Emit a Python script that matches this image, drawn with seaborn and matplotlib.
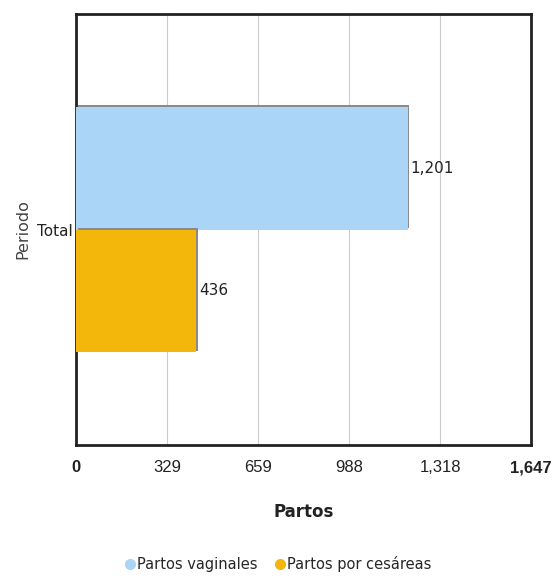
import matplotlib
matplotlib.use("Agg")
import matplotlib.pyplot as plt
import matplotlib.patheffects as pe
from matplotlib.lines import Line2D
import seaborn as sns
import pandas as pd

categories = ["Total"]
series = ["Partos vaginales", "Partos por cesáreas"]
vaginales = [1201]
cesareas = [436]
xticks = [0, 329, 659, 988, 1318, 1647]
xtick_labels = ["0", "329", "659", "988", "1,318", "1,647"]
colors = ["#abd5f7", "#f2b70a"]

df = pd.DataFrame({
    "Periodo": categories * 2,
    "Serie": [series[0]] * len(categories) + [series[1]] * len(categories),
    "Partos": vaginales + cesareas,
})

sns.set_theme(style="white")
plt.rcParams["font.family"] = ["DejaVu Sans"]
narrow = ["Liberation Sans", "DejaVu Sans"]

fig = plt.figure(figsize=(5.54, 5.76), dpi=100)
ax = fig.add_axes([76 / 554, 1 - 445 / 576, (531 - 76) / 554, (445 - 14) / 576])

sns.barplot(data=df, y="Periodo", x="Partos", hue="Serie", orient="h",
            palette=colors, width=0.57, saturation=1, ax=ax, legend=False,
            zorder=3)

for p in ax.patches:
    p.set_path_effects([pe.SimplePatchShadow(offset=(1.2, 1.2), shadow_rgbFace="#8a8a8a", alpha=1.0), pe.Normal()])
    p.set_edgecolor("none")

ax.set_xlim(0, 1647)
ax.set_ylim(0.5, -0.5)
ax.set_xticks(xticks)
ax.set_xticklabels(xtick_labels, fontsize=12, family=narrow)
for lbl in ax.get_xticklabels():
    if lbl.get_text() in ("0", "1,647"):
        lbl.set_fontweight("bold")
ax.tick_params(axis="x", length=0, pad=11, colors="#222222")
ax.tick_params(axis="y", length=0, pad=2, colors="#222222")
for lbl in ax.get_yticklabels():
    lbl.set_fontsize(11)
ax.grid(axis="x", color="#cccccc", linewidth=0.8, zorder=0)
ax.set_axisbelow(True)

for s in ax.spines.values():
    s.set_visible(True)
    s.set_color("#222222")
    s.set_linewidth(2)

ax.set_xlabel("Partos", fontsize=12, fontweight="bold", labelpad=20, color="#222222")
ax.set_ylabel("Periodo", fontsize=11.5, color="#444444", labelpad=5)

for cont in ax.containers:
    ax.bar_label(cont, labels=[f"{v:,.0f}" for v in cont.datavalues],
                 padding=2, fontsize=11, color="#222222")

handles = [Line2D([0], [0], marker="o", linestyle="none", markersize=8,
                  markerfacecolor=c, markeredgecolor="none") for c in colors]
fig.legend(handles, series, loc="center", bbox_to_anchor=(0.5, 1 - 564 / 576),
           ncol=2, frameon=False, handletextpad=0.0,
           columnspacing=1.0, handlelength=1.0,
           prop={"size": 10.5})

fig.savefig("out.png", dpi=100)
